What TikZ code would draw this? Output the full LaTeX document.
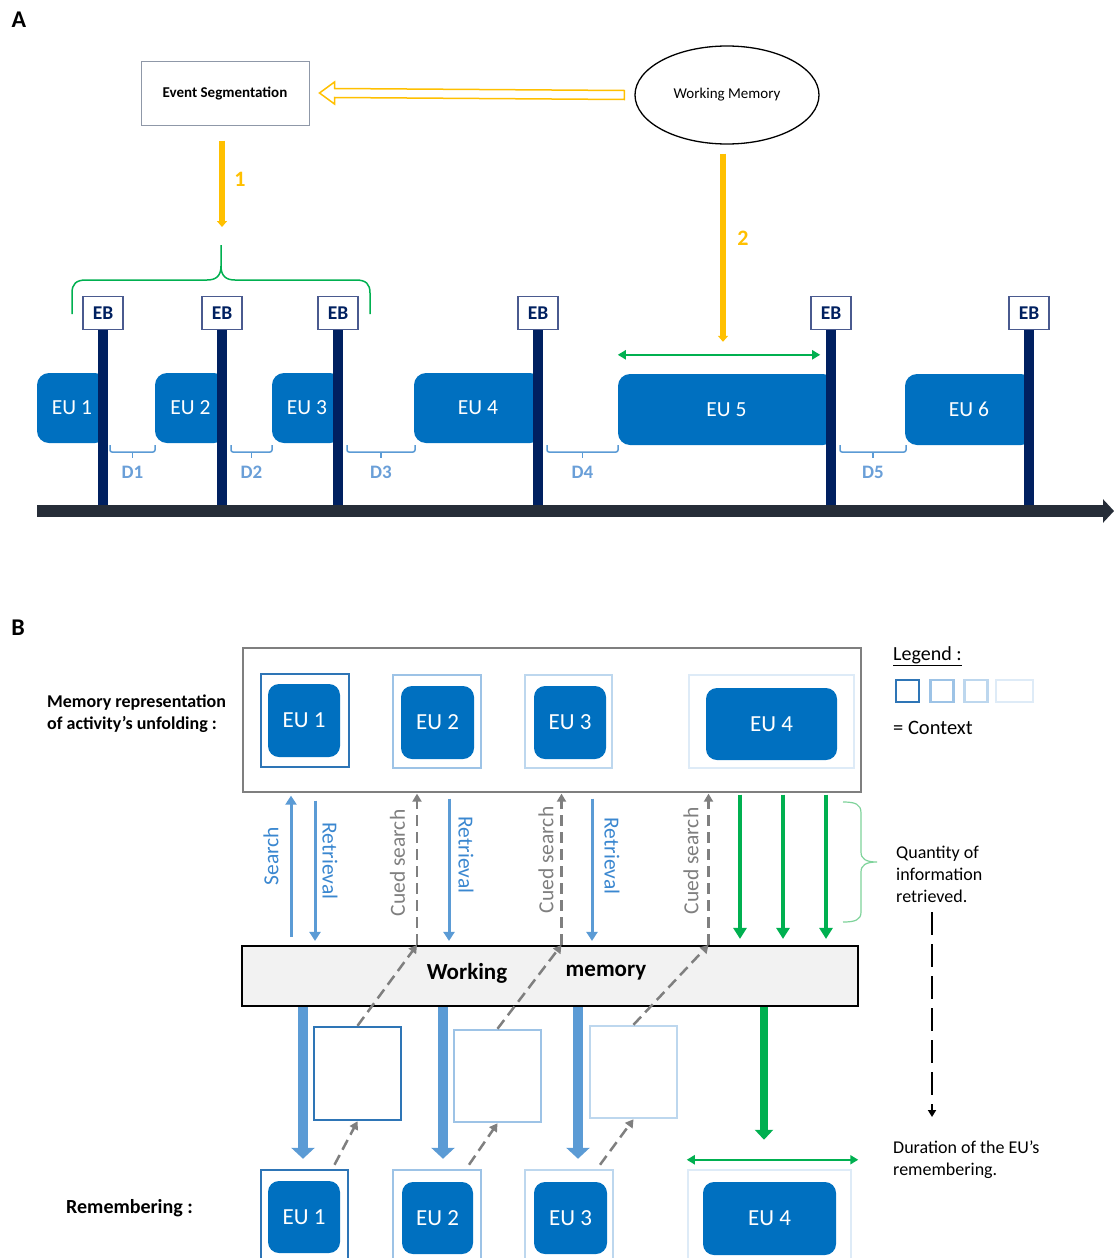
\documentclass[tikz,border=0pt]{standalone}
\usepackage{fontspec}
\setmainfont{Carlito}
\usetikzlibrary{shapes.geometric,arrows.meta,calc}
\definecolor{yel}{HTML}{FFC000}
\definecolor{eublue}{HTML}{0070C0}
\definecolor{navy}{HTML}{002060}
\definecolor{ebb}{HTML}{4A5A8F}
\definecolor{tlc}{HTML}{262D38}
\definecolor{grn}{HTML}{00B050}
\definecolor{lgrn}{HTML}{7FD39B}
\definecolor{dbl}{HTML}{5B9BD5}
\definecolor{dlab}{HTML}{6A9FD8}
\definecolor{tblue}{HTML}{3A87D0}
\definecolor{fA}{HTML}{2E75B6}
\definecolor{fB}{HTML}{9DC3E6}
\definecolor{fC}{HTML}{BDD7EE}
\definecolor{fD}{HTML}{DEEBF7}
\definecolor{cgray}{HTML}{7F7F7F}
\definecolor{esb}{HTML}{8F98A8}
\definecolor{wmfill}{HTML}{F2F2F2}
\newcommand{\mydbr}[4]{%
  \draw[dbrace, rounded corners=2pt] (#1,445) -- (#1,452) -- (#2,452) -- (#2,445);
  \draw[dbrace] ({(#1+#2)/2},452) -- ({(#1+#2)/2},458);
  \node[dlabel] (#4) at ({(#1+#2)/2},472) {#3};}
\tikzset{
  euA/.style={fill=eublue, draw=none, rounded corners=12pt, text=white, inner sep=0pt,
    font=\fontsize{21.5}{25}\selectfont},
  euB/.style={fill=eublue, draw=none, rounded corners=11pt, text=white, inner sep=0pt,
    font=\fontsize{23}{27}\selectfont},
  ebbox/.style={draw=ebb, line width=1.2pt, fill=white, minimum width=40pt, minimum height=33pt,
    inner sep=0pt, text=navy, font=\bfseries\fontsize{19.5}{22}\selectfont},
  post/.style={draw=navy, line width=10pt},
  dbrace/.style={draw=dbl, line width=1.5pt},
  dlabel/.style={text=dlab, font=\bfseries\fontsize{19}{22}\selectfont, inner sep=0pt},
  yarrow/.style={draw=yel, line width=5.5pt, -{Triangle[width=10pt,length=6pt]}},
  ylabel/.style={text=yel, font=\bfseries\fontsize{22}{25}\selectfont, inner sep=0pt},
  gdouble/.style={draw=grn, line width=2.5pt, {Triangle[width=9pt,length=8pt]}-{Triangle[width=9pt,length=8pt]}},
  frm/.style={draw=#1, line width=2.5pt, fill=none, inner sep=0pt},
  barr/.style={draw=dbl, line width=3pt, -{Triangle[width=11pt,length=9pt]}},
  carr/.style={draw=cgray, line width=2.5pt, dash pattern=on 11pt off 6pt, -{Triangle[width=9pt,length=8pt]}},
  garr/.style={draw=grn, line width=3.5pt, -{Triangle[width=13pt,length=11pt]}},
  bigb/.style={draw=dbl, line width=10pt, -{Triangle[width=23pt,length=11pt]}},
  vlab/.style={font=\fontsize{21.5}{25}\selectfont, inner sep=0pt},
  txt/.style={font=\fontsize{18}{22}\selectfont, inner sep=0pt, anchor=west, align=left},
}
\begin{document}
\begin{tikzpicture}[x=1pt,y=-1pt]
\useasboundingbox (0,0) rectangle (1114,1258);
\clip (0,0) rectangle (1114,1258);
\fill[white] (0,0) rectangle (1114,1258);

% ---------------- Part A ----------------
\node[font=\bfseries\fontsize{24}{28}\selectfont, inner sep=0pt] (labA) at (19,20) {A};

\node[draw=esb, line width=1pt, minimum width=168pt, minimum height=64pt, inner sep=0pt,
  font=\bfseries\fontsize{15}{18}\selectfont] (es) at (225,93) {Event Segmentation};
\node[ellipse, draw=black, line width=1.3pt, minimum width=184pt, minimum height=98pt, inner sep=0pt,
  font=\fontsize{15}{18}\selectfont] (wm) at (727,95) {Working Memory};

% hollow arrow from working memory to event segmentation
\draw[draw=yel, line width=1.5pt, line join=miter]
  ($(wm.west)+(-10,-4.5)$) -- ($(es.east)+(25,-4.5)$) -- ($(es.east)+(25,-11)$)
  -- ($(es.east)+(10,0)$) -- ($(es.east)+(25,11)$) -- ($(es.east)+(25,4.5)$)
  -- ($(wm.west)+(-10,4.5)$) -- cycle;

% EU boxes
\node[euA, minimum width=70pt, minimum height=70pt] (eu1) at (72,408) {EU 1};
\node[euA, minimum width=71pt, minimum height=70pt] (eu2) at (190.5,408) {EU 2};
\node[euA, minimum width=70pt, minimum height=70pt] (eu3) at (307,408) {EU 3};
\node[euA, minimum width=128pt, minimum height=70pt] (eu4) at (478,408) {EU 4};
\node[euA, minimum width=217pt, minimum height=71pt] (eu5) at (726.5,409.5) {EU 5};
\node[euA, minimum width=128pt, minimum height=71pt] (eu6) at (969,409.5) {EU 6};

% timeline
\coordinate (tlL) at (37,511);
\coordinate (tlR) at (1114,511);
\coordinate (tltop) at (0,505);
\draw[draw=tlc, line width=12pt, -{Triangle[width=23pt,length=11pt]}] (tlL) -- (tlR);

% EB posts and boxes
\foreach \n/\x in {1/103,2/222,3/338,4/538,5/831,6/1029}{
  \node[ebbox] (eb\n) at (\x,313) {EB};
  \draw[post] (eb\n.south) -- (eb\n.south |- tltop);
}

% D brackets
\mydbr{110}{155}{D1}{d1}
\mydbr{231}{272}{D2}{d2}
\mydbr{347}{415}{D3}{d3}
\mydbr{547}{618}{D4}{d4}
\mydbr{840}{906}{D5}{d5}

% green brace over EB 1-3
\coordinate (brtip) at (221,245);
\draw[draw=grn, line width=1.5pt]
  (72,314) -- (72,293) .. controls (72,284) and (76,280) .. (86,280) -- (207,280)
  .. controls (216,280) and (221,276) .. (221,266) -- (brtip) -- (221,266)
  .. controls (221,276) and (226,280) .. (235,280) -- (356,280)
  .. controls (366,280) and (370,284) .. (370,293) -- (370,314);

% yellow arrows
\draw[yarrow] ($(es.south)+(-3,15)$) -- ($(brtip)+(1,-18)$);
\node[ylabel] (n1) at (240,179) {1};
\coordinate (g5L) at ($(eu5.north west)+(0,-19)$);
\coordinate (g5R) at ($(eu5.north east)+(-15,-19)$);
\draw[yarrow] ($(wm.south)+(-4,9)$) -- ($(wm.south |- g5L)+(-4,-13)$);
\node[ylabel] (n2) at (743,238) {2};
\draw[gdouble] (g5L) -- (g5R);

% ---------------- Part B ----------------
\node[font=\bfseries\fontsize{24}{28}\selectfont, inner sep=0pt] (labB) at (18,628) {B};

\node[draw=cgray, line width=1.3pt, minimum width=618pt, minimum height=144pt, inner sep=0pt] (memrep) at (552,720) {};

\node[txt, font=\bfseries\fontsize{18}{22}\selectfont] (mrl) at (47,714) {Memory representation\\of activity’s unfolding :};

% top frames and EUs
\node[frm=fA, minimum width=88pt, minimum height=93pt] (tf1) at (305,720.5) {};
\node[frm=fB, minimum width=88pt, minimum height=93pt] (tf2) at (437,721.5) {};
\node[frm=fC, minimum width=87pt, minimum height=93pt] (tf3) at (568.5,721.5) {};
\node[frm=fD, minimum width=165pt, minimum height=93pt] (tf4) at (771.5,721.5) {};
\node[euB, minimum width=72pt, minimum height=73pt] (te1) at (304,720.5) {EU 1};
\node[euB, minimum width=73pt, minimum height=73pt] (te2) at (437.5,722.5) {EU 2};
\node[euB, minimum width=72pt, minimum height=73pt] (te3) at (570,722.5) {EU 3};
\node[euB, minimum width=131pt, minimum height=72pt] (te4) at (771.5,724) {EU 4};

% legend
\node[txt, font=\fontsize{20}{24}\selectfont] (leg) at (893,656) {\underline{Legend :}};
\node[frm=fA, minimum width=23pt, minimum height=22pt] (lg1) at (907.5,691) {};
\node[frm=fB, minimum width=23pt, minimum height=22pt] (lg2) at (942,691) {};
\node[frm=fC, minimum width=23pt, minimum height=22pt] (lg3) at (976,691) {};
\node[frm=fD, minimum width=37pt, minimum height=22pt] (lg4) at (1014.5,691) {};
\node[txt, font=\fontsize{20.5}{24}\selectfont] (ctx) at (893,728) {= Context};

% working memory box
\node[draw=black, fill=wmfill, line width=2.2pt, minimum width=616pt, minimum height=60pt, inner sep=0pt] (wmb) at (550,976) {};

% columns
\coordinate (cS) at (291,0);
\coordinate (cR1) at (315,0);
\coordinate (cC1) at (417,0);
\coordinate (cR2) at (449,0);
\coordinate (cC2) at (561.5,0);
\coordinate (cR3) at (592,0);
\coordinate (cC3) at (708.5,0);
\coordinate (cG1) at (740,0);
\coordinate (cG2) at (783,0);
\coordinate (cG3) at (826,0);
\coordinate (cB1) at (303,0);
\coordinate (cB2) at (443,0);
\coordinate (cB3) at (578,0);
\coordinate (cB4) at (764,0);

\draw[barr] ($(cS |- wmb.north)+(0,-8)$) -- ($(cS |- memrep.south)+(0,3)$);
\draw[barr] ($(cR1 |- memrep.south)+(0,8)$) -- ($(cR1 |- wmb.north)+(0,-4)$);
\draw[carr] (cC1 |- wmb.north) -- ($(cC1 |- memrep.south)+(0,1)$);
\draw[barr] ($(cR2 |- memrep.south)+(0,6)$) -- ($(cR2 |- wmb.north)+(0,-4)$);
\draw[carr] (cC2 |- wmb.north) -- ($(cC2 |- memrep.south)+(0,1)$);
\draw[barr] ($(cR3 |- memrep.south)+(0,6)$) -- ($(cR3 |- wmb.north)+(0,-4)$);
\draw[carr] (cC3 |- wmb.north) -- ($(cC3 |- memrep.south)+(0,1)$);
\foreach \c in {cG1,cG2,cG3}{
  \draw[garr] ($(\c |- memrep.south)+(0,2)$) -- ($(\c |- wmb.north)+(0,-6)$);
}

\node[vlab, text=tblue, rotate=90] (lS) at (271,856) {Search};
\node[vlab, text=tblue, rotate=-90] (lR1) at (330,861) {Retrieval};
\node[vlab, text=cgray, rotate=90] (lC1) at (397.5,863) {Cued search};
\node[vlab, text=tblue, rotate=-90] (lR2) at (466,855) {Retrieval};
\node[vlab, text=cgray, rotate=90] (lC2) at (546,860) {Cued search};
\node[vlab, text=tblue, rotate=-90] (lR3) at (612,856) {Retrieval};
\node[vlab, text=cgray, rotate=90] (lC3) at (691,861) {Cued search};

% right brace and texts
\coordinate (qtip) at (877,862);
\draw[draw=lgrn, line width=1.2pt]
  (843,802) .. controls (855,802) and (861,804) .. (861,813) -- (861,852)
  .. controls (861,859) and (866,862) .. (qtip)
  .. controls (866,862) and (861,865) .. (861,872) -- (861,912)
  .. controls (861,920) and (855,922) .. (843,922);
\node[txt] (qty) at (896,874) {Quantity of\\information\\retrieved.};
\coordinate (dtop) at (932,912);
\coordinate (dbot) at (932,1117);
\draw[draw=black, line width=2.5pt, dash pattern=on 23pt off 9pt, -{Triangle[width=8pt,length=7pt]}] (dtop) -- (dbot);
\node[txt] (dur) at (893,1160) {Duration of the EU’s\\remembering.};

% intermediate empty squares
\node[frm=fA, minimum width=87pt, minimum height=93pt] (s1) at (357.5,1073.5) {};
\node[frm=fB, minimum width=87pt, minimum height=92pt] (s2) at (497.5,1076) {};
\node[frm=fC, minimum width=87pt, minimum height=92pt] (s3) at (633.5,1072) {};

% bottom frames and EUs
\node[frm=fA, minimum width=87pt, minimum height=93pt] (bf1) at (304.5,1216.5) {};
\node[frm=fB, minimum width=88pt, minimum height=93pt] (bf2) at (437,1216.5) {};
\node[frm=fC, minimum width=88pt, minimum height=93pt] (bf3) at (569,1216.5) {};
\node[frm=fD, minimum width=163pt, minimum height=93pt] (bf4) at (769.5,1216.5) {};
\node[euB, minimum width=72pt, minimum height=72pt] (be1) at (304,1217) {EU 1};
\node[euB, minimum width=71pt, minimum height=72pt] (be2) at (437.5,1218) {EU 2};
\node[euB, minimum width=73pt, minimum height=72pt] (be3) at (570.5,1218) {EU 3};
\node[euB, minimum width=133pt, minimum height=73pt] (be4) at (769.5,1218.5) {EU 4};

% thick arrows from working memory
\draw[bigb] (cB1 |- wmb.south) -- ($(cB1 |- bf1.north)+(0,-10)$);
\draw[bigb] (cB2 |- wmb.south) -- ($(cB2 |- bf2.north)+(0,-10)$);
\draw[bigb] (cB3 |- wmb.south) -- ($(cB3 |- bf3.north)+(0,-10)$);
\draw[draw=grn, line width=7.5pt, -{Triangle[width=18pt,length=10pt]}] (cB4 |- wmb.south) -- ($(cB4 |- bf4.north)+(0,-29)$);
\draw[gdouble] ($(bf4.north west)+(0,-9)$) -- ($(bf4.north east)+(6,-9)$);

% dashed diagonals
\draw[carr] (s1.north) -- (cC1 |- wmb.north);
\draw[carr] (s2.north) -- (cC2 |- wmb.north);
\draw[carr] (s3.north) -- (cC3 |- wmb.north);
\draw[carr] ($(bf1.north)+(30,-4)$) -- (s1.south);
\draw[carr] ($(bf2.north)+(32,-4)$) -- (s2.south);
\draw[carr] ($(bf3.north)+(31,-4)$) -- (s3.south);

\node[font=\bfseries\fontsize{23}{27}\selectfont, inner sep=0pt] (wkg) at (467,973) {Working};
\node[font=\bfseries\fontsize{23}{27}\selectfont, inner sep=0pt] (mem) at (606,973) {memory};

\node[txt, font=\bfseries\fontsize{20}{24}\selectfont] (rem) at (66,1208) {Remembering :};
\end{tikzpicture}
\end{document}
